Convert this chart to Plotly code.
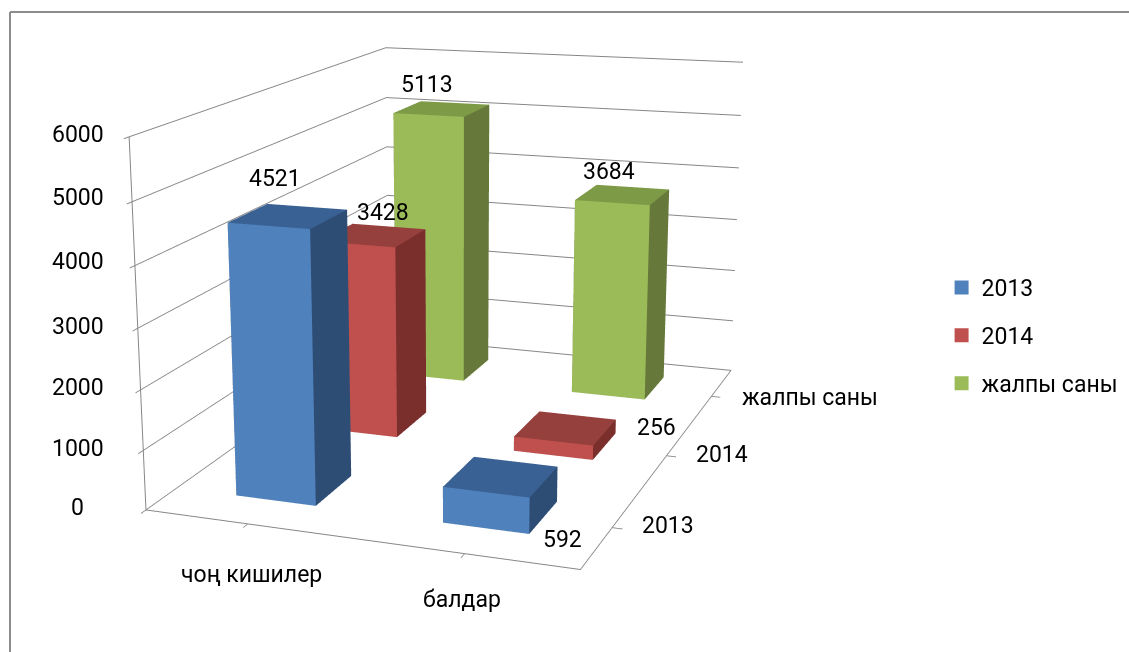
import plotly.graph_objects as go

# --- data ---
categories = ["чоң кишилер", "балдар"]
series = ["2013", "2014", "жалпы саны"]
values_2013 = [4521, 592]
values_2014 = [3428, 256]
values_total = [5113, 3684]
z_ticks = [0, 1000, 2000, 3000, 4000, 5000, 6000]

# --- styles and view ---
palette = {"2013": ("#4f81bd", "#3a6194", "#2e4d75"),
           "2014": ("#c0504d", "#96403d", "#7a2f2d"),
           "жалпы саны": ("#9bbb59", "#7d9a46", "#66783a")}
FONT = "Roboto"
FS = 23
FRAME = "#8c8c8c"
AXIS = "#868686"
K = 489                     # part of the taller plot area scrolled above the window (narrows the lens)
H = 652 + 2 * K
CX = 375.0
HX, HY = 0.1961, 0.2094     # half bar footprint
XC = [-0.0043, 0.9906]      # category positions on the floor
YC = [0.0156, 1.0326, 2.0397]
EYE = dict(x=1.0075, y=-2.9305, z=0.7638)
CEN = dict(x=-0.0864, y=-0.1931, z=-0.0542)
UP = dict(x=0.0121, y=0, z=1)
ASPECT = dict(x=0.6700, y=1.0, z=0.5625)
VALUE_SHIFT = [[(-13, 38), (62, -63)], [(10, 23), (91, 1)], [(-15, 24), (-14, 23)]]
Z_SHIFT = [(-68, 2), (-65, 2), (-63, 2), (-60, 2), (-57, 4), (-54, 4), (-51, 2)]
X_SHIFT = [(4, -51), (-3, -46)]
Y_SHIFT = [(56, 2), (56, 1), (99, -1)]


def py(v):
    return 1 - (v + K) / H


def box(xc, yc, h, cols):
    x0, x1, y0, y1 = xc - HX, xc + HX, yc - HY, yc + HY
    X = [x0, x1, x1, x0, x0, x1, x1, x0]
    Y = [y0, y0, y1, y1, y0, y0, y1, y1]
    Z = [0, 0, 0, 0, h, h, h, h]
    I = [0, 0, 4, 4, 0, 0, 1, 1, 2, 2, 3, 3]
    J = [1, 2, 5, 6, 1, 5, 2, 6, 3, 7, 0, 4]
    L = [2, 3, 6, 7, 5, 4, 6, 5, 7, 6, 4, 7]
    front, top, side = cols
    fc = [top, top, top, top, front, front, side, side, side, side, side, side]
    return go.Mesh3d(x=X, y=Y, z=Z, i=I, j=J, k=L, facecolor=fc, flatshading=True,
                     lighting=dict(ambient=1, diffuse=0, specular=0, roughness=1, fresnel=0),
                     hoverinfo="skip", showlegend=False)


def label(x, y, z, text, shift):
    return dict(x=x, y=y, z=z, text=text, showarrow=False, xshift=shift[0], yshift=shift[1],
                xanchor="center", yanchor="middle", font=dict(family=FONT, size=FS, color="black"))


fig = go.Figure()
anns = []
for sj, (name, vals) in enumerate(zip(series, [values_2013, values_2014, values_total])):
    for ci, v in enumerate(vals):
        fig.add_trace(box(XC[ci], YC[sj], v, palette[name]))
        anns.append(label(XC[ci], YC[sj], v, str(v), VALUE_SHIFT[sj][ci]))
    fig.add_trace(go.Scatter(x=[None], y=[None], mode="markers", name=name, legendgroup=name,
                             marker=dict(symbol="square", size=14, color=palette[name][0])))
for t, s in zip(z_ticks, Z_SHIFT):
    anns.append(label(-0.5, -0.5, t, str(t), s))
for i, (c, s) in enumerate(zip(categories, X_SHIFT)):
    anns.append(label(i, -0.5, 0, c, s))
for j, (c, s) in enumerate(zip(series, Y_SHIFT)):
    anns.append(label(1.5, j, 0, c, s))

axis_common = dict(showbackground=False, showspikes=False, title="", tickcolor=AXIS, tickwidth=2,
                   linecolor=AXIS, linewidth=2, ticks="outside", ticklen=8, showticklabels=False)
fig.update_layout(
    width=1129, height=H, paper_bgcolor="white", plot_bgcolor="white",
    margin=dict(l=0, r=0, t=0, b=0),
    xaxis=dict(visible=False), yaxis=dict(visible=False),
    font=dict(family=FONT, size=FS, color="black"),
    legend=dict(x=0.834, y=py(266), xanchor="left", yanchor="top", tracegroupgap=15, bgcolor="rgba(0,0,0,0)"),
    scene=dict(
        dragmode="orbit",
        domain=dict(x=[0, 2 * CX / 1129], y=[0, 1]),
        aspectmode="manual", aspectratio=ASPECT,
        camera=dict(eye=EYE, center=CEN, up=UP),
        xaxis=dict(axis_common, range=[-0.5, 1.5], tickvals=[0, 1], showgrid=False, zeroline=False),
        yaxis=dict(axis_common, range=[-0.5, 2.5], tickvals=[0, 1, 2], showgrid=False, zeroline=False),
        zaxis=dict(axis_common, range=[0, 6000], tickvals=z_ticks, showgrid=True, gridcolor=AXIS, gridwidth=2, zeroline=False),
        annotations=anns,
    ),
    shapes=[
        dict(type="line", xref="paper", yref="paper", x0=10 / 1129, x1=1, y0=py(12), y1=py(12), line=dict(color=FRAME, width=2)),
        dict(type="line", xref="paper", yref="paper", x0=10 / 1129, x1=10 / 1129, y0=py(12), y1=py(660), line=dict(color=FRAME, width=2)),
    ],
)
fig.write_html("out.html", config=dict(displayModeBar=False),
               post_script=f"document.body.style.margin='0';document.documentElement.style.overflow='hidden';document.body.style.overflow='hidden';document.getElementById('{{plot_id}}').style.marginTop='-{K}px';")
